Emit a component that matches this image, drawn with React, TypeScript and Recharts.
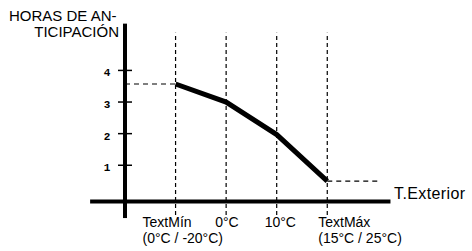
import { LineChart, Line, XAxis, YAxis, ReferenceLine } from 'recharts';

// categories on the outside-temperature axis
const categories = ['TextMín', '0°C', '10°C', 'TextMáx'];
const subLabels = ['(0°C / -20°C)', '', '', '(15°C / 25°C)'];
const xPositions = [1, 2, 3, 4];
// anticipation hours
const hours = [3.57, 3.0, 1.97, 0.5];
const yTicks = [1, 2, 3, 4];

const data = xPositions.map((x, i) => ({ x, hours: hours[i] }));

const FONT = '"Liberation Sans", Arial, sans-serif';

// left edge of each x label, relative to its tick
const labelDx = [-33, -11, -12, -9];

function XTick(props: any) {
    const { x, y, payload } = props;
    const i = xPositions.indexOf(payload.value);
    if (i < 0) return null;
    return (
        <g>
            <text x={x + labelDx[i]} y={y + 8.2} fontSize={14} fontFamily={FONT} fill="#000" textAnchor="start">
                {categories[i]}
            </text>
            {subLabels[i] && (
                <text x={x + labelDx[i]} y={y + 24} fontSize={14} fontFamily={FONT} fill="#000" textAnchor="start">
                    {subLabels[i]}
                </text>
            )}
        </g>
    );
}

function YTick(props: any) {
    const { x, y, payload } = props;
    return (
        <g>
            <line x1={x - 7} x2={x + 7} y1={y} y2={y} stroke="#000" strokeWidth={1.5} />
            <text
                x={x - 18}
                y={y + 6}
                fontSize={11}
                fontWeight="bold"
                fontFamily='"Liberation Mono", monospace'
                fill="#000"
                textAnchor="middle"
            >
                {payload.value}
            </text>
        </g>
    );
}

export default function App() {
    const first = hours[0];
    const last = hours[hours.length - 1];
    return (
        <div style={{ position: 'absolute', left: 0, top: 0, width: 472, height: 251, background: '#fff' }}>
            <LineChart
                width={472}
                height={251}
                data={data}
                margin={{ top: 23, right: 79, bottom: 0, left: 0 }}
            >
                <XAxis
                    dataKey="x"
                    type="number"
                    domain={[0, 5.3]}
                    ticks={xPositions}
                    allowDataOverflow
                    height={32}
                    axisLine={false}
                    tickLine={false}
                    tickSize={0}
                    tickMargin={0}
                    tick={<XTick />}
                    interval={0}
                />
                <YAxis
                    type="number"
                    domain={[-0.7, 5.5]}
                    ticks={yTicks}
                    allowDataOverflow
                    width={125}
                    axisLine={false}
                    tickLine={false}
                    tickSize={0}
                    tickMargin={0}
                    tick={<YTick />}
                    interval={0}
                />
                {/* dashed guides at each category */}
                {xPositions.map((x) => (
                    <ReferenceLine
                        key={x}
                        segment={[{ x, y: -0.57 }, { x, y: 5.19 }]}
                        stroke="#000"
                        strokeWidth={1.2}
                        strokeDasharray="4 3"
                        ifOverflow="visible"
                    />
                ))}
                <ReferenceLine
                    segment={[{ x: 0, y: first }, { x: xPositions[0], y: first }]}
                    stroke="#000"
                    strokeWidth={1.2}
                    strokeDasharray="5 4"
                    ifOverflow="visible"
                />
                <ReferenceLine
                    segment={[{ x: xPositions[xPositions.length - 1], y: last }, { x: 5.04, y: last }]}
                    stroke="#000"
                    strokeWidth={1.2}
                    strokeDasharray="5 4"
                    ifOverflow="visible"
                />
                {/* axes */}
                <ReferenceLine
                    segment={[{ x: -0.69, y: -0.15 }, { x: 5.25, y: -0.15 }]}
                    stroke="#000"
                    strokeWidth={4}
                    ifOverflow="visible"
                />
                <ReferenceLine
                    segment={[{ x: 0, y: -0.67 }, { x: 0, y: 5.48 }]}
                    stroke="#000"
                    strokeWidth={4}
                    ifOverflow="visible"
                />
                <Line
                    type="linear"
                    dataKey="hours"
                    stroke="#000"
                    strokeWidth={5}
                    dot={false}
                    isAnimationActive={false}
                />
            </LineChart>
            <svg
                width={472}
                height={251}
                style={{ position: 'absolute', left: 0, top: 0, pointerEvents: 'none' }}
            >
                <text x={9} y={20.5} fontSize={15} fontFamily={FONT} fill="#000">HORAS DE AN-</text>
                <text x={119} y={37} fontSize={15} fontFamily={FONT} fill="#000" textAnchor="end">TICIPACIÓN</text>
                <text x={394} y={199} fontSize={16} fontFamily={FONT} fill="#000" letterSpacing={0.4}>T.Exterior</text>
            </svg>
        </div>
    );
}
